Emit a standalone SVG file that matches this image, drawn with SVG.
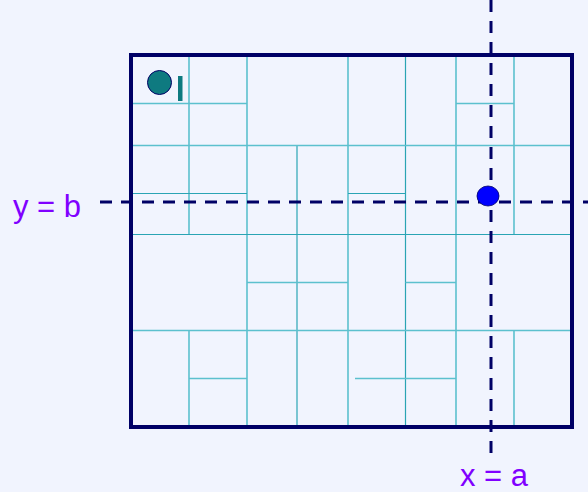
<svg xmlns="http://www.w3.org/2000/svg" width="588" height="492" viewBox="0 0 588 492">
<style>
.g{stroke:#5CC0CE;stroke-width:1.6;fill:none}
.d{stroke:#2AA4B4;stroke-width:1.2;fill:none}
.dash{stroke:#000066;stroke-width:3;stroke-dasharray:12 9;fill:none}
.lbl{font-family:"Liberation Sans",Arial,sans-serif;font-size:31px;fill:#8000FF}
</style>
<rect width="588" height="492" fill="#F1F4FE"/>
<g id="grid">
<line class="g" x1="189" y1="55" x2="189" y2="234"/>
<line class="g" x1="189" y1="331" x2="189" y2="427"/>
<line class="g" x1="247" y1="55" x2="247" y2="427"/>
<line class="d" x1="297" y1="145" x2="297" y2="427"/>
<line class="g" x1="348" y1="55" x2="348" y2="427"/>
<line class="d" x1="405.5" y1="55" x2="405.5" y2="427"/>
<line class="g" x1="456" y1="55" x2="456" y2="427"/>
<line class="g" x1="514" y1="55" x2="514" y2="234"/>
<line class="g" x1="514" y1="331" x2="514" y2="427"/>
<line class="g" x1="131" y1="103.5" x2="247" y2="103.5"/>
<line class="g" x1="456" y1="103.5" x2="514" y2="103.5"/>
<line class="g" x1="131" y1="145.5" x2="572" y2="145.5"/>
<line class="d" x1="131" y1="193.5" x2="247" y2="193.5"/>
<line class="d" x1="348" y1="193.5" x2="405.5" y2="193.5"/>
<line class="d" x1="131" y1="234.5" x2="572" y2="234.5"/>
<line class="g" x1="247" y1="282.5" x2="348" y2="282.5"/>
<line class="g" x1="405.5" y1="282.5" x2="456" y2="282.5"/>
<line class="g" x1="131" y1="330.5" x2="572" y2="330.5"/>
<line class="g" x1="189" y1="378.5" x2="247" y2="378.5"/>
<line class="g" x1="355" y1="378.5" x2="456" y2="378.5"/>
</g>
<rect id="frame" x="131" y="55" width="441" height="372" fill="none" stroke="#000066" stroke-width="4"/>
<g id="connectors">
<line class="dash" x1="491" y1="0" x2="491" y2="456"/>
<line class="dash" x1="100" y1="202" x2="588" y2="202"/>
</g>
<g id="point-q">
<ellipse cx="488" cy="196" rx="11" ry="10" fill="#0000FF" stroke="#000066" stroke-width="0.8"/>
</g>
<g id="legend">
<circle cx="159.5" cy="82.5" r="12" fill="#0E7A80" stroke="#000066" stroke-width="1"/>
<rect x="178" y="76" width="4.5" height="25" fill="#0E7A80"/>
</g>
<g id="label-y">
<text class="lbl" x="13" y="217">y = b</text>
</g>
<g id="label-x">
<text class="lbl" x="460" y="486">x = a</text>
</g>
</svg>
